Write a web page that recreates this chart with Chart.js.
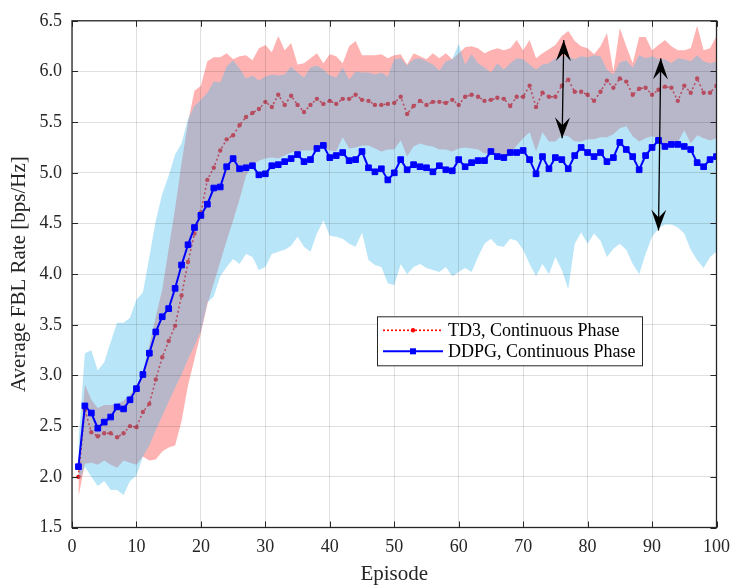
<!DOCTYPE html>
<html>
<head>
<meta charset="utf-8">
<title>Average FBL Rate</title>
<script src="https://cdn.jsdelivr.net/npm/chart.js@4.4.1/dist/chart.umd.min.js"></script>
<style>
  html, body { margin: 0; padding: 0; background: #fff; }
  #wrap { width: 739px; height: 587px; }
</style>
</head>
<body>
<div id="wrap"><canvas id="fblChart" width="739" height="587"></canvas></div>
<script>
// episodes on the x axis
const episodes = Array.from({length: 100}, (_, i) => i + 1);

const seriesNames = ['TD3, Continuous Phase', 'DDPG, Continuous Phase'];

// TD3 mean and its shaded band
const td3Mean = [
  2.00, 2.66, 2.44, 2.40, 2.43, 2.43, 2.39, 2.43, 2.50, 2.49,
  2.64, 2.72, 2.96, 3.18, 3.34, 3.49, 3.79, 4.12, 4.40, 4.61,
  4.93, 5.05, 5.22, 5.33, 5.37, 5.47, 5.55, 5.59, 5.63, 5.70,
  5.65, 5.77, 5.67, 5.76, 5.67, 5.60, 5.67, 5.73, 5.68, 5.71,
  5.68, 5.73, 5.73, 5.77, 5.72, 5.71, 5.67, 5.67, 5.68, 5.69,
  5.75, 5.58, 5.66, 5.71, 5.67, 5.70, 5.70, 5.69, 5.72, 5.67,
  5.75, 5.77, 5.75, 5.71, 5.72, 5.74, 5.73, 5.66, 5.75, 5.75,
  5.86, 5.65, 5.79, 5.75, 5.75, 5.86, 5.92, 5.80, 5.80, 5.77,
  5.71, 5.80, 5.91, 5.84, 5.93, 5.90, 5.77, 5.83, 5.84, 5.77,
  5.82, 5.85, 5.84, 5.71, 5.86, 5.79, 5.93, 5.79, 5.79, 5.86
];
const td3Upper = [
  2.15, 2.91, 2.76, 2.68, 2.71, 2.71, 2.72, 2.75, 2.81, 2.90,
  3.03, 3.30, 3.58, 3.85, 4.25, 4.65, 5.10, 5.50, 5.81, 5.86,
  6.10, 6.14, 6.14, 6.18, 6.12, 6.15, 6.16, 6.11, 6.23, 6.26,
  6.19, 6.35, 6.21, 6.28, 6.07, 6.08, 6.13, 6.18, 6.08, 6.17,
  6.15, 6.08, 6.25, 6.30, 6.16, 6.16, 6.16, 6.17, 6.13, 6.16,
  6.17, 6.07, 6.18, 6.15, 6.12, 6.18, 6.13, 6.18, 6.12, 6.18,
  6.24, 6.25, 6.23, 6.18, 6.21, 6.23, 6.21, 6.23, 6.31, 6.21,
  6.31, 6.13, 6.18, 6.22, 6.26, 6.35, 6.40, 6.30, 6.25, 6.23,
  6.17, 6.25, 6.38, 6.00, 6.43, 6.25, 6.08, 6.34, 6.34, 6.21,
  6.26, 6.31, 6.25, 6.21, 6.21, 6.23, 6.45, 6.21, 6.23, 6.35
];
const td3Lower = [
  1.80, 2.13, 2.14, 2.12, 2.16, 2.12, 2.09, 2.16, 2.14, 2.12,
  2.20, 2.16, 2.17, 2.25, 2.29, 2.31, 2.55, 2.90, 3.16, 3.42,
  3.70, 3.91, 4.12, 4.33, 4.53, 4.74, 4.97, 5.08, 5.12, 5.14,
  5.15, 5.14, 5.17, 5.20, 5.21, 5.22, 5.22, 5.24, 5.24, 5.22,
  5.21, 5.35, 5.24, 5.25, 5.27, 5.27, 5.24, 5.21, 5.23, 5.23,
  5.32, 5.16, 5.26, 5.29, 5.27, 5.26, 5.23, 5.23, 5.21, 5.24,
  5.25, 5.24, 5.23, 5.19, 5.19, 5.19, 5.14, 5.18, 5.27, 5.34,
  5.40, 5.21, 5.40, 5.31, 5.31, 5.37, 5.36, 5.31, 5.31, 5.33,
  5.33, 5.35, 5.35, 5.38, 5.44, 5.46, 5.36, 5.31, 5.34, 5.36,
  5.34, 5.27, 5.29, 5.30, 5.42, 5.29, 5.37, 5.34, 5.32, 5.34
];

// DDPG mean and its shaded band
const ddpgMean = [
  2.10, 2.70, 2.63, 2.48, 2.54, 2.59, 2.69, 2.67, 2.76, 2.87,
  3.01, 3.22, 3.43, 3.58, 3.66, 3.86, 4.09, 4.29, 4.46, 4.58,
  4.69, 4.85, 4.86, 5.06, 5.14, 5.04, 5.05, 5.07, 4.98, 4.99,
  5.07, 5.08, 5.11, 5.14, 5.18, 5.11, 5.13, 5.24, 5.27, 5.15,
  5.17, 5.20, 5.12, 5.13, 5.21, 5.05, 5.01, 5.04, 4.93, 5.00,
  5.13, 5.03, 5.08, 5.06, 5.05, 5.01, 5.07, 5.03, 5.02, 5.13,
  5.06, 5.10, 5.12, 5.12, 5.21, 5.16, 5.15, 5.20, 5.20, 5.22,
  5.13, 4.99, 5.16, 5.04, 5.15, 5.13, 5.04, 5.17, 5.25, 5.20,
  5.16, 5.20, 5.11, 5.15, 5.30, 5.23, 5.16, 5.03, 5.17, 5.25,
  5.32, 5.26, 5.28, 5.28, 5.26, 5.23, 5.10, 5.06, 5.13, 5.16
];
const ddpgUpper = [
  2.35, 3.22, 3.25, 3.05, 3.13, 3.33, 3.52, 3.52, 3.57, 3.75,
  3.82, 4.17, 4.53, 4.79, 4.97, 5.18, 5.29, 5.53, 5.66, 5.72,
  5.79, 5.90, 5.89, 6.05, 6.11, 6.03, 5.93, 5.96, 5.91, 5.95,
  5.97, 5.96, 5.97, 6.05, 5.99, 5.94, 6.04, 6.06, 6.02, 5.96,
  5.94, 6.04, 5.92, 6.00, 5.99, 5.99, 5.97, 5.99, 5.95, 6.12,
  6.13, 6.06, 6.12, 6.13, 6.10, 6.07, 6.01, 6.10, 6.12, 6.27,
  6.07, 6.17, 6.08, 6.04, 5.99, 6.08, 6.02, 6.08, 6.13, 6.12,
  6.07, 6.02, 6.07, 6.08, 6.13, 6.15, 6.15, 6.12, 6.15, 6.14,
  6.16, 6.15, 6.02, 5.97, 6.09, 6.11, 6.04, 6.16, 6.13, 6.15,
  6.12, 6.12, 6.08, 6.13, 6.12, 6.10, 6.16, 6.10, 6.08, 6.10
];
const ddpgLower = [
  1.95, 2.10, 2.00, 1.91, 1.96, 1.87, 1.87, 1.82, 1.96, 2.01,
  2.20, 2.31, 2.46, 2.60, 2.74, 2.88, 3.01, 3.16, 3.29, 3.44,
  3.72, 3.78, 3.98, 4.07, 4.15, 4.10, 4.20, 4.17, 4.04, 4.07,
  4.20, 4.22, 4.24, 4.28, 4.37, 4.27, 4.22, 4.40, 4.53, 4.38,
  4.37, 4.35, 4.30, 4.27, 4.41, 4.14, 4.09, 4.07, 3.91, 3.89,
  4.10, 4.00, 4.07, 4.10, 4.06, 4.04, 4.02, 4.07, 3.98, 4.02,
  4.06, 4.02, 4.17, 4.30, 4.35, 4.28, 4.27, 4.35, 4.33, 4.24,
  4.10, 3.98, 4.10, 4.00, 4.17, 4.04, 3.85, 4.30, 4.41, 4.30,
  4.40, 4.33, 4.17, 4.25, 4.30, 4.24, 4.10, 4.00, 4.20, 4.37,
  4.45, 4.49, 4.49, 4.46, 4.40, 4.24, 4.14, 4.06, 4.17, 4.22
];

// double arrows, in data units: [xTop, yTop, xBottom, yBottom]
const arrowEnds = [
  [76.3, 6.31, 76.05, 5.34],
  [91.35, 6.13, 91.0, 4.43]
];

const serif = '"Liberation Serif", "Times New Roman", serif';
const axisInk = '#262626';

function toPoints(values) {
  return values.map((v, i) => ({x: episodes[i], y: v}));
}

// box around the axes with inward ticks, like the matlab figure
const framePlugin = {
  id: 'frame',
  afterDraw(chart) {
    const {ctx, chartArea: a, scales: {x, y}} = chart;
    const len = 6;
    ctx.save();
    ctx.strokeStyle = axisInk;
    ctx.lineWidth = 1;
    ctx.beginPath();
    x.ticks.forEach(t => {
      const px = Math.round(x.getPixelForValue(t.value)) + 0.5;
      ctx.moveTo(px, a.bottom); ctx.lineTo(px, a.bottom - len);
      ctx.moveTo(px, a.top); ctx.lineTo(px, a.top + len);
    });
    y.ticks.forEach(t => {
      const py = Math.round(y.getPixelForValue(t.value)) + 0.5;
      ctx.moveTo(a.left, py); ctx.lineTo(a.left + len, py);
      ctx.moveTo(a.right, py); ctx.lineTo(a.right - len, py);
    });
    ctx.stroke();
    ctx.lineWidth = 1.3;
    ctx.strokeRect(a.left, a.top, a.right - a.left, a.bottom - a.top);
    ctx.restore();
  }
};

function drawHead(ctx, tip, from) {
  const ang = Math.atan2(tip.y - from.y, tip.x - from.x);
  ctx.save();
  ctx.translate(tip.x, tip.y);
  ctx.rotate(ang);
  ctx.beginPath();
  ctx.moveTo(0, 0);
  ctx.lineTo(-21, -7.5);
  ctx.lineTo(-13, 0);
  ctx.lineTo(-21, 7.5);
  ctx.closePath();
  ctx.fill();
  ctx.restore();
}

const arrowPlugin = {
  id: 'arrows',
  afterDraw(chart) {
    const {ctx, scales: {x, y}} = chart;
    ctx.save();
    ctx.strokeStyle = '#000';
    ctx.fillStyle = '#000';
    ctx.lineWidth = 1.3;
    arrowEnds.forEach(([xa, ya, xb, yb]) => {
      const p1 = {x: x.getPixelForValue(xa), y: y.getPixelForValue(ya)};
      const p2 = {x: x.getPixelForValue(xb), y: y.getPixelForValue(yb)};
      ctx.beginPath();
      ctx.moveTo(p1.x, p1.y);
      ctx.lineTo(p2.x, p2.y);
      ctx.stroke();
      drawHead(ctx, p1, p2);
      drawHead(ctx, p2, p1);
    });
    ctx.restore();
  }
};

// legend box sitting inside the plot
const legendPlugin = {
  id: 'boxLegend',
  afterDraw(chart) {
    const {ctx, chartArea: a} = chart;
    const left = a.left + 305, top = a.top + 295.5, w = 265, h = 49;
    ctx.save();
    ctx.fillStyle = '#fff';
    ctx.fillRect(left, top, w, h);
    ctx.strokeStyle = axisInk;
    ctx.lineWidth = 1;
    ctx.strokeRect(left + 0.5, top + 0.5, w, h);

    const rows = [
      {y: top + 14, color: '#ff0000', dash: [2, 2], marker: 'dot'},
      {y: top + 35, color: '#0000ff', dash: [], marker: 'square'}
    ];
    rows.forEach((r, i) => {
      ctx.strokeStyle = r.color;
      ctx.fillStyle = r.color;
      ctx.lineWidth = i === 0 ? 1.6 : 2;
      ctx.setLineDash(r.dash);
      ctx.beginPath();
      ctx.moveTo(left + 6, r.y);
      ctx.lineTo(left + 66, r.y);
      ctx.stroke();
      ctx.setLineDash([]);
      const cx = left + 36;
      if (r.marker === 'dot') {
        ctx.beginPath();
        ctx.arc(cx, r.y, 2.2, 0, Math.PI * 2);
        ctx.fill();
      } else {
        ctx.fillRect(cx - 3, r.y - 3, 6, 6);
      }
      ctx.fillStyle = '#000';
      ctx.font = '18px ' + serif;
      ctx.textBaseline = 'middle';
      ctx.fillText(seriesNames[i], left + 71, r.y + 1);
    });
    ctx.restore();
  }
};

const chart = new Chart(document.getElementById('fblChart'), {
  type: 'line',
  data: {
    datasets: [
      {
        label: seriesNames[1],
        data: toPoints(ddpgMean),
        order: 1,
        borderColor: '#0000ff',
        backgroundColor: '#0000ff',
        borderWidth: 2,
        pointStyle: 'rect',
        pointRadius: 4,
        pointBorderWidth: 1,
        fill: false
      },
      {
        label: 'ddpg upper',
        data: toPoints(ddpgUpper),
        order: 2,
        fill: '+1',
        backgroundColor: 'rgba(77, 190, 238, 0.4)',
        borderColor: 'rgba(0, 0, 0, 0)',
        borderWidth: 0,
        pointRadius: 0
      },
      {
        label: 'ddpg lower',
        data: toPoints(ddpgLower),
        order: 2,
        fill: false,
        borderColor: 'rgba(0, 0, 0, 0)',
        borderWidth: 0,
        pointRadius: 0
      },
      {
        label: 'td3 upper',
        data: toPoints(td3Upper),
        order: 3,
        fill: '+1',
        backgroundColor: 'rgba(255, 0, 0, 0.3)',
        borderColor: 'rgba(0, 0, 0, 0)',
        borderWidth: 0,
        pointRadius: 0
      },
      {
        label: 'td3 lower',
        data: toPoints(td3Lower),
        order: 3,
        fill: false,
        borderColor: 'rgba(0, 0, 0, 0)',
        borderWidth: 0,
        pointRadius: 0
      },
      {
        label: seriesNames[0],
        data: toPoints(td3Mean),
        order: 4,
        borderColor: '#ff0000',
        backgroundColor: '#ff0000',
        borderWidth: 1.6,
        borderDash: [2, 2.5],
        pointStyle: 'circle',
        pointRadius: 2.2,
        pointBorderWidth: 0,
        fill: false
      }
    ]
  },
  options: {
    responsive: false,
    devicePixelRatio: 1,
    animation: false,
    events: [],
    layout: {padding: {top: 14, right: 15, left: 0, bottom: 0}},
    plugins: {
      legend: {display: false},
      tooltip: {enabled: false}
    },
    scales: {
      x: {
        type: 'linear',
        min: 0,
        max: 100,
        afterFit: s => { s.height = 59.5; },
        ticks: {stepSize: 10, padding: 9, color: axisInk, font: {family: serif, size: 18}},
        grid: {color: 'rgba(38, 38, 38, 0.15)', drawTicks: false, z: 1},
        border: {display: false},
        title: {display: true, text: 'Episode', color: axisInk, padding: 0, font: {family: serif, size: 21}}
      },
      y: {
        min: 1.5,
        max: 6.5,
        afterFit: s => { s.width = 72; },
        ticks: {stepSize: 0.5, padding: 10, color: axisInk, font: {family: serif, size: 18}},
        grid: {color: 'rgba(38, 38, 38, 0.15)', drawTicks: false, z: 1},
        border: {display: false},
        title: {display: true, text: 'Average FBL Rate [bps/Hz]', color: axisInk, padding: {top: 7, bottom: 0}, font: {family: serif, size: 21}}
      }
    }
  },
  plugins: [framePlugin, arrowPlugin, legendPlugin]
});
</script>
</body>
</html>
